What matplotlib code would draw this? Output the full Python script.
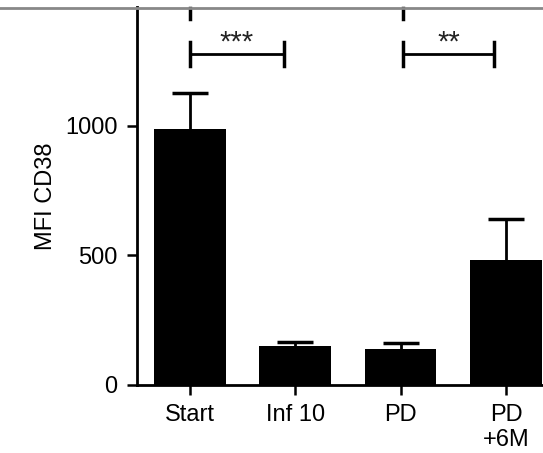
import numpy as np
import matplotlib
matplotlib.use("Agg")
import matplotlib.pyplot as plt
from matplotlib.lines import Line2D

plt.rcParams['font.family'] = ['Liberation Sans', 'DejaVu Sans']

categories = ["Start", "Inf 10", "PD", "PD\n+6M"]
mfi_mean = [989, 150, 139, 481]
mfi_err = [136, 16, 23, 158]
y_ticks = [0, 500, 1000]

# significance brackets: (x start, x end, label)
brackets = [(0.0, 0.89, "***"), (2.02, 2.89, "**")]
bracket_y = 1276

fig = plt.figure(figsize=(5.43, 4.53), dpi=100)
ax = fig.add_axes([0.2523, 0.1512, 0.7477, 0.8323])

x = np.arange(len(categories))
ax.bar(x, mfi_mean, width=0.68, color="black", zorder=2)
eb = ax.errorbar(x, mfi_mean, yerr=[np.zeros(len(mfi_err)), mfi_err], fmt="none",
                 ecolor="black", elinewidth=2, capsize=13, capthick=2.5, zorder=1)
# only the upper cap is shown
eb[1][0].set_visible(False)

ax.set_xlim(-0.5, 3.35)
ax.set_ylim(0, 1457)
ax.set_xticks(x)
ax.set_xticklabels(categories, fontsize=17, linespacing=1.15)
ax.set_yticks(y_ticks)
ax.set_yticklabels([str(t) for t in y_ticks], fontsize=17)
ax.set_ylabel("MFI CD38", fontsize=17, labelpad=6)

for side in ["top", "right"]:
    ax.spines[side].set_visible(False)
for side in ["left", "bottom"]:
    ax.spines[side].set_linewidth(2)
ax.tick_params(width=1.8, length=7, pad=7, color="black")

for x0, x1, label in brackets:
    ax.plot([x0, x1], [bracket_y, bracket_y], color="black", lw=2, clip_on=False)
    for xe in (x0, x1):
        ax.plot([xe, xe], [bracket_y - 44, bracket_y + 46], color="black", lw=2.5, clip_on=False)
    ax.text((x0 + x1) / 2, bracket_y - 8, label, ha="center", va="bottom",
            fontsize=21, color="#222222")
    # remnant tick from the panel above
    ax.plot([x0, x0], [1411, 1455], color="black", lw=2.5, clip_on=False)

fig.add_artist(Line2D([0, 1], [1 - 7.5 / 453, 1 - 7.5 / 453], color="#888888", lw=2))

fig.savefig("out.png", dpi=100)
